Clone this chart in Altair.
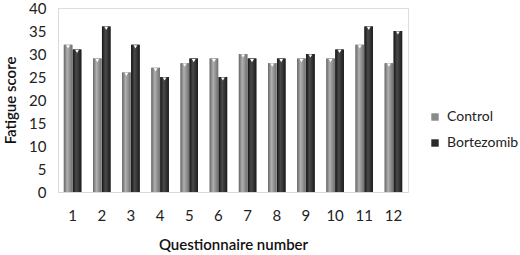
import altair as alt
import pandas as pd

questions = [str(i) for i in range(1, 13)]
control = [32, 29, 26, 27, 28, 29, 30, 28, 29, 29, 32, 28]
bortezomib = [31, 36, 32, 25, 29, 25, 29, 29, 30, 31, 36, 35]
series = ["Control", "Bortezomib"]

rows = []
for q, c, b in zip(questions, control, bortezomib):
    rows.append({"q": q, "series": "Control", "value": c})
    rows.append({"q": q, "series": "Bortezomib", "value": b})
df = pd.DataFrame(rows)

FONT = "Lato"

x = alt.X("q:N", sort=questions, title="Questionnaire number",
          scale=alt.Scale(paddingInner=0.4, paddingOuter=0.2),
          axis=alt.Axis(labelAngle=0, ticks=False, labelPadding=16, titlePadding=14,
                        domainColor="#d9d9d9", labelFontSize=15, titleFontSize=15,
                        labelColor="#222", titleColor="#111", titleFontWeight=600,
                        labelFontWeight=400))
y = alt.Y("value:Q", title="Fatigue score",
          scale=alt.Scale(domain=[0, 40], nice=False),
          axis=alt.Axis(values=list(range(0, 41, 5)), ticks=False, grid=False,
                        labelPadding=12, titlePadding=10, domainColor="#d9d9d9",
                        labelFontSize=15, titleFontSize=15, labelColor="#222",
                        titleColor="#111", titleFontWeight=600, labelFontWeight=400))
xo = alt.XOffset("series:N", sort=series, scale=alt.Scale(domain=series, paddingInner=0.05))

base = alt.Chart(df).mark_bar().encode(
    x=x, y=y, xOffset=xo,
    color=alt.Color("series:N", sort=series,
                    scale=alt.Scale(domain=series, range=["#8a8a8a", "#2a2a2a"]),
                    legend=alt.Legend(title=None, orient="none", legendX=370, legendY=102,
                                      symbolType="square", symbolSize=55,
                                      labelFontSize=14, labelColor="#222",
                                      rowPadding=12, labelOffset=5, labelFont=FONT)),
)

grad_c = alt.LinearGradient(gradient="linear", x1=0, x2=1, y1=0, y2=0,
                            stops=[alt.GradientStop(color="#666666", offset=0),
                                   alt.GradientStop(color="#b0b0b0", offset=0.4),
                                   alt.GradientStop(color="#707070", offset=1)])
grad_b = alt.LinearGradient(gradient="linear", x1=0, x2=1, y1=0, y2=0,
                            stops=[alt.GradientStop(color="#151515", offset=0),
                                   alt.GradientStop(color="#4a4a4a", offset=0.4),
                                   alt.GradientStop(color="#1c1c1c", offset=1)])

gc = alt.Chart(df).transform_filter(alt.datum.series == "Control").mark_bar(color=grad_c).encode(
    x=x, y=y, xOffset=xo)
gb = alt.Chart(df).transform_filter(alt.datum.series == "Bortezomib").mark_bar(color=grad_b).encode(
    x=x, y=y, xOffset=xo)

tri = alt.Chart(df).mark_point(shape="triangle-down", filled=True, color="white",
                               opacity=1, size=14, yOffset=2).encode(x=x, y=y, xOffset=xo)

chart = alt.layer(base, gc, gb, tri).properties(
    width=350, height=184,
    autosize=alt.AutoSizeParams(type="none"),
    padding={"left": 58, "top": 8, "right": 112, "bottom": 63},
).configure_view(stroke=None).configure(font=FONT)

chart.save("out.html", embed_options={"renderer": "svg", "actions": False})
